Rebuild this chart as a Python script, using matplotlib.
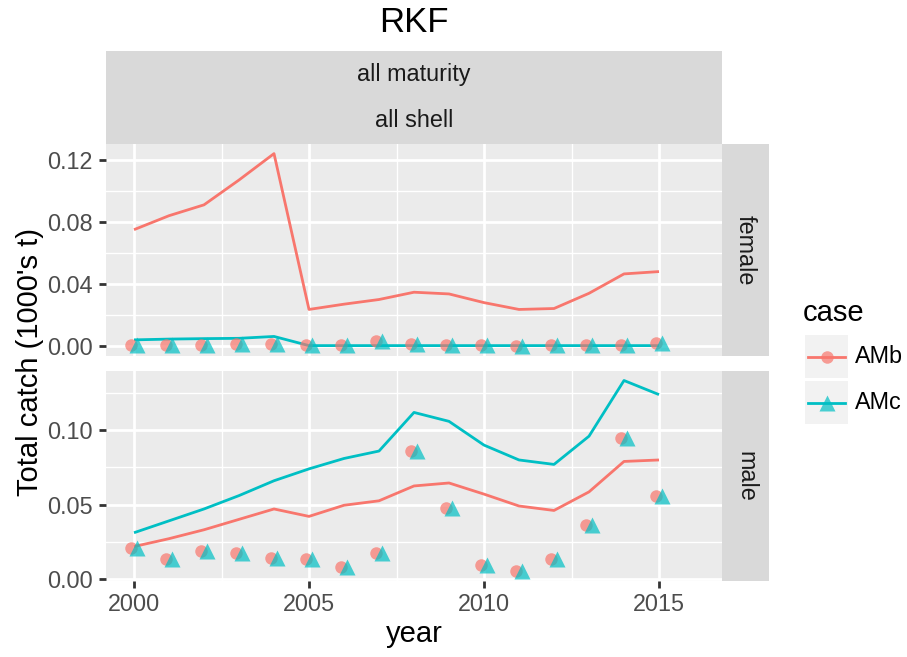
import matplotlib
matplotlib.use("Agg")
import matplotlib.pyplot as plt
from matplotlib.patches import Rectangle
from matplotlib.lines import Line2D

plt.rcParams['font.family'] = ['Liberation Sans', 'DejaVu Sans']

# ---------------- data ----------------
years = [2000, 2001, 2002, 2003, 2004, 2005, 2006, 2007,
         2008, 2009, 2010, 2011, 2012, 2013, 2014, 2015]

female_AMb_est = [0.075, 0.084, 0.091, 0.107, 0.124, 0.0236, 0.027, 0.030,
                  0.0347, 0.0336, 0.028, 0.0236, 0.0242, 0.034, 0.0465, 0.048]
female_AMc_est = [0.004, 0.0045, 0.0048, 0.005, 0.0062, 0.0003, 0.0003, 0.0003,
                  0.0003, 0.0003, 0.0003, 0.0003, 0.0003, 0.0003, 0.0003, 0.0003]
female_obs = [0.001, 0.0007, 0.001, 0.0012, 0.0012, 0.0008, 0.001, 0.003,
              0.0015, 0.0005, 0.0005, 0.0002, 0.0005, 0.0005, 0.0005, 0.0017]

male_AMb_est = [0.0217, 0.027, 0.033, 0.040, 0.047, 0.042, 0.0495, 0.0525,
                0.0625, 0.0645, 0.057, 0.049, 0.046, 0.0585, 0.079, 0.080]
male_AMc_est = [0.031, 0.039, 0.047, 0.056, 0.066, 0.074, 0.081, 0.086,
                0.112, 0.106, 0.090, 0.080, 0.077, 0.096, 0.1335, 0.124]
male_obs = [0.021, 0.013, 0.019, 0.0174, 0.0143, 0.013, 0.0078, 0.0175,
            0.086, 0.0475, 0.0096, 0.005, 0.013, 0.036, 0.095, 0.056]

cases = ["AMb", "AMc"]
case_colors = ["#F8766D", "#00BFC4"]
case_markers = ["o", "^"]
sexes = ["female", "male"]
strip_labels = ["all maturity", "all shell"]
x_ticks = [2000, 2005, 2010, 2015]
female_yticks = [0.00, 0.04, 0.08, 0.12]
male_yticks = [0.00, 0.05, 0.10]

# ---------------- layout ----------------
W, H = 907, 657
DPI = 100
fig = plt.figure(figsize=(W / DPI, H / DPI), dpi=DPI)
fig.patch.set_facecolor("white")


def box(l, t, r, b):
    return [l / W, 1 - b / H, (r - l) / W, (b - t) / H]


TICK_FS = 16.8
STRIP_FS = 16.8
AXT_FS = 21
TITLE_FS = 25
GREY30 = "#4D4D4D"
GREY20 = "#333333"
GREY10 = "#1A1A1A"
PANEL_BG = "#EBEBEB"
STRIP_BG = "#D9D9D9"
MS_CIRCLE = 9.0
MS_TRI = 11.5

panel_boxes = [(106, 144, 722, 355.7), (106, 371, 722, 581)]
panel_data = [
    (female_AMb_est, female_AMc_est, female_obs, female_yticks, (-0.0062, 0.1302),
     [0.02, 0.06, 0.10]),
    (male_AMb_est, male_AMc_est, male_obs, male_yticks, (-0.0015, 0.1399),
     [0.025, 0.075, 0.125]),
]
dodge = 0.075

for i, (pb, (b_est, c_est, obs, yt, ylim, yminor)) in enumerate(zip(panel_boxes, panel_data)):
    ax = fig.add_axes(box(*pb))
    ax.set_facecolor(PANEL_BG)
    for s in ax.spines.values():
        s.set_visible(False)
    ax.set_xlim(1999.2, 2016.8)
    ax.set_ylim(*ylim)
    ax.set_xticks(x_ticks)
    ax.set_xticks([2002.5, 2007.5, 2012.5], minor=True)
    ax.set_yticks(yt)
    ax.set_yticks(yminor, minor=True)
    ax.set_yticklabels([f"{v:.2f}" for v in yt])
    ax.grid(which="major", color="white", lw=2.0)
    ax.grid(which="minor", color="white", lw=1.0)
    ax.set_axisbelow(True)
    ax.tick_params(axis="y", which="major", length=5.25, width=2.0, color=GREY20,
                   labelsize=TICK_FS, labelcolor=GREY30, pad=4.5)
    ax.tick_params(which="minor", length=0)
    if i == 1:
        ax.set_xticklabels([str(v) for v in x_ticks])
        ax.tick_params(axis="x", which="major", length=5.25, width=2.0, color=GREY20,
                       labelsize=TICK_FS, labelcolor=GREY30, pad=3.5)
    else:
        ax.tick_params(axis="x", which="major", length=0, labelbottom=False)

    ax.plot(years, b_est, color=case_colors[0], lw=2.0, zorder=3, solid_capstyle="butt")
    ax.plot(years, c_est, color=case_colors[1], lw=2.0, zorder=3, solid_capstyle="butt")
    ax.plot([y - dodge for y in years], obs, linestyle="none", marker="o", ms=MS_CIRCLE,
            mec="none", mfc=case_colors[0], alpha=0.7, zorder=4)
    ax.plot([y + dodge for y in years], obs, linestyle="none", marker="^", ms=MS_TRI,
            mec="none", mfc=case_colors[1], alpha=0.7, zorder=5)

    # right strip
    sax = fig.add_axes(box(722, pb[1], 769, pb[3]))
    sax.set_facecolor(STRIP_BG)
    sax.set_xticks([]); sax.set_yticks([])
    for s in sax.spines.values():
        s.set_visible(False)
    sax.text(0.5, 0.5, sexes[i], rotation=-90, ha="center", va="center",
             fontsize=STRIP_FS, color=GREY10, transform=sax.transAxes)

# top strips
for j, (t, b) in enumerate([(51, 97.5), (97.5, 144)]):
    sax = fig.add_axes(box(106, t, 722, b))
    sax.set_facecolor(STRIP_BG)
    sax.set_xticks([]); sax.set_yticks([])
    for s in sax.spines.values():
        s.set_visible(False)
    sax.text(0.5, 0.5, strip_labels[j], ha="center", va="center",
             fontsize=STRIP_FS, color=GREY10, transform=sax.transAxes)

# titles
fig.text(414 / W, 1 - 22 / H, "RKF", ha="center", va="center", fontsize=TITLE_FS, color="black")
fig.text(414 / W, 1 - 634 / H, "year", ha="center", va="center", fontsize=AXT_FS, color="black")
fig.text(30 / W, 1 - 362 / H, "Total catch (1000's t)", ha="center", va="center",
         rotation=90, fontsize=AXT_FS, color="black")

# legend (manual, ggplot style)
lax = fig.add_axes([0, 0, 1, 1], zorder=10)
lax.set_xlim(0, W)
lax.set_ylim(H, 0)
lax.axis("off")
lax.patch.set_alpha(0)
lax.text(803, 313, "case", ha="left", va="center", fontsize=AXT_FS, color="black")
key_tops = [335, 381]
for k, kt in enumerate(key_tops):
    lax.add_patch(Rectangle((805, kt), 43, 43, facecolor="#F2F2F2", edgecolor="none"))
    cy = kt + 21.5
    lax.add_line(Line2D([808, 845], [cy, cy], color=case_colors[k], lw=2.0))
    lax.plot([826.5], [cy], marker=case_markers[k], ms=MS_CIRCLE if k == 0 else MS_TRI,
             mec="none", mfc=case_colors[k], alpha=0.7, linestyle="none")
    lax.text(855, cy, cases[k], ha="left", va="center", fontsize=TICK_FS, color="black")

fig.savefig("out.png", dpi=DPI, facecolor="white")
